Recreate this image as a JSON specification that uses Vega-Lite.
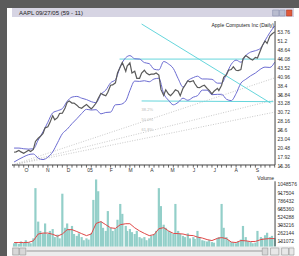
{
"$schema": "https://vega.github.io/schema/vega-lite/v6.json",
"width": 292, "height": 248,
"autosize": {"type": "none"},
"padding": {"left": 7, "top": 8, "right": 0, "bottom": 0},
"background": "#5b5b5b",
"config": {"view": {"fill": "#ffffff", "stroke": null}, "font": "Liberation Sans", "axis": {"labelFont": "Liberation Sans"}},
"data": {"values": [{"one": 1}]},
"datasets": {
"px": [
{"d":"2004-09-13","c":19.3,"v":100000},{"d":"2004-09-16","c":19.4,"v":120000},{"d":"2004-09-20","c":19.8,"v":90000},{"d":"2004-09-23","c":19.4,"v":130000},
{"d":"2004-09-27","c":19.0,"v":110000},{"d":"2004-09-30","c":19.4,"v":150000},{"d":"2004-10-04","c":19.9,"v":120000},{"d":"2004-10-07","c":19.5,"v":100000},
{"d":"2004-10-11","c":20.1,"v":180000},{"d":"2004-10-14","c":22.4,"v":990000},{"d":"2004-10-18","c":23.3,"v":450000},{"d":"2004-10-21","c":23.8,"v":300000},
{"d":"2004-10-25","c":24.7,"v":260000},{"d":"2004-10-28","c":26.3,"v":420000},{"d":"2004-11-01","c":26.6,"v":250000},{"d":"2004-11-04","c":27.8,"v":300000},
{"d":"2004-11-08","c":29.8,"v":330000},{"d":"2004-11-11","c":28.6,"v":200000},{"d":"2004-11-15","c":29.2,"v":240000},{"d":"2004-11-18","c":30.4,"v":180000},
{"d":"2004-11-22","c":30.5,"v":900000},{"d":"2004-11-26","c":32.0,"v":350000},{"d":"2004-11-29","c":33.6,"v":420000},{"d":"2004-12-02","c":34.0,"v":330000},
{"d":"2004-12-06","c":33.4,"v":380000},{"d":"2004-12-09","c":33.4,"v":250000},{"d":"2004-12-13","c":32.8,"v":220000},{"d":"2004-12-16","c":32.2,"v":260000},
{"d":"2004-12-20","c":31.9,"v":200000},{"d":"2004-12-23","c":32.4,"v":150000},{"d":"2004-12-27","c":33.0,"v":180000},{"d":"2004-12-30","c":32.4,"v":160000},
{"d":"2005-01-03","c":31.7,"v":260000},{"d":"2005-01-06","c":32.4,"v":800000},{"d":"2005-01-10","c":33.4,"v":1130000},{"d":"2005-01-13","c":34.7,"v":940000},
{"d":"2005-01-17","c":36.2,"v":450000},{"d":"2005-01-20","c":35.8,"v":350000},{"d":"2005-01-24","c":35.5,"v":300000},{"d":"2005-01-27","c":36.5,"v":620000},
{"d":"2005-01-31","c":38.5,"v":350000},{"d":"2005-02-03","c":38.6,"v":300000},{"d":"2005-02-07","c":39.2,"v":330000},{"d":"2005-02-10","c":42.0,"v":480000},
{"d":"2005-02-14","c":43.7,"v":735000},{"d":"2005-02-17","c":45.0,"v":575000},{"d":"2005-02-22","c":42.5,"v":380000},{"d":"2005-02-24","c":44.0,"v":300000},
{"d":"2005-02-28","c":44.9,"v":330000},{"d":"2005-03-03","c":42.0,"v":280000},{"d":"2005-03-07","c":42.5,"v":250000},{"d":"2005-03-10","c":40.5,"v":300000},
{"d":"2005-03-14","c":40.5,"v":200000},{"d":"2005-03-17","c":42.0,"v":180000},{"d":"2005-03-21","c":42.8,"v":200000},{"d":"2005-03-24","c":42.0,"v":150000},
{"d":"2005-03-28","c":41.5,"v":180000},{"d":"2005-03-31","c":41.7,"v":220000},{"d":"2005-04-04","c":41.7,"v":250000},{"d":"2005-04-07","c":42.0,"v":300000},
{"d":"2005-04-11","c":41.4,"v":990000},{"d":"2005-04-14","c":37.3,"v":700000},{"d":"2005-04-18","c":35.6,"v":400000},{"d":"2005-04-21","c":37.2,"v":350000},
{"d":"2005-04-25","c":36.0,"v":300000},{"d":"2005-04-28","c":35.5,"v":280000},{"d":"2005-05-02","c":36.4,"v":250000},{"d":"2005-05-05","c":37.2,"v":735000},
{"d":"2005-05-09","c":36.8,"v":300000},{"d":"2005-05-12","c":35.5,"v":250000},{"d":"2005-05-16","c":37.6,"v":220000},{"d":"2005-05-19","c":38.5,"v":200000},
{"d":"2005-05-23","c":39.8,"v":260000},{"d":"2005-05-26","c":39.5,"v":180000},{"d":"2005-05-31","c":39.8,"v":200000},{"d":"2005-06-02","c":39.0,"v":170000},
{"d":"2005-06-06","c":37.9,"v":300000},{"d":"2005-06-09","c":37.8,"v":200000},{"d":"2005-06-13","c":38.3,"v":150000},{"d":"2005-06-16","c":38.5,"v":140000},
{"d":"2005-06-20","c":37.6,"v":130000},{"d":"2005-06-23","c":37.0,"v":150000},{"d":"2005-06-27","c":36.0,"v":120000},{"d":"2005-06-30","c":36.8,"v":110000},
{"d":"2005-07-05","c":37.6,"v":180000},{"d":"2005-07-07","c":37.0,"v":200000},{"d":"2005-07-11","c":38.5,"v":735000},{"d":"2005-07-14","c":40.8,"v":350000},
{"d":"2005-07-18","c":41.5,"v":200000},{"d":"2005-07-21","c":42.8,"v":150000},{"d":"2005-07-25","c":43.0,"v":120000},{"d":"2005-07-28","c":43.8,"v":110000},
{"d":"2005-08-01","c":42.8,"v":100000},{"d":"2005-08-04","c":42.7,"v":130000},{"d":"2005-08-08","c":43.0,"v":160000},{"d":"2005-08-11","c":46.1,"v":380000},
{"d":"2005-08-15","c":47.0,"v":200000},{"d":"2005-08-18","c":46.6,"v":130000},{"d":"2005-08-22","c":46.0,"v":120000},{"d":"2005-08-25","c":45.7,"v":100000},
{"d":"2005-08-29","c":46.5,"v":110000},{"d":"2005-09-01","c":46.3,"v":300000},{"d":"2005-09-06","c":48.8,"v":200000},{"d":"2005-09-08","c":49.8,"v":180000},
{"d":"2005-09-12","c":51.2,"v":230000},{"d":"2005-09-15","c":50.5,"v":270000},{"d":"2005-09-19","c":52.6,"v":200000},{"d":"2005-09-22","c":53.2,"v":220000},
{"d":"2005-09-26","c":53.8,"v":180000}
],
"bb": [
{"d":"2004-09-13","u":20.5,"l":16.5,"m":112000},{"d":"2004-09-20","u":20.5,"l":17.3,"m":112000},{"d":"2004-09-27","u":20.3,"l":18.0,"m":112000},
{"d":"2004-10-04","u":20.2,"l":18.6,"m":115000},{"d":"2004-10-11","u":20.3,"l":18.8,"m":140000},{"d":"2004-10-18","u":22.8,"l":17.6,"m":250000},
{"d":"2004-10-25","u":25.2,"l":17.2,"m":265000},{"d":"2004-11-01","u":27.9,"l":17.9,"m":265000},{"d":"2004-11-08","u":30.6,"l":19.4,"m":245000},
{"d":"2004-11-15","u":31.2,"l":22.0,"m":215000},{"d":"2004-11-22","u":31.8,"l":24.6,"m":250000},{"d":"2004-11-29","u":33.9,"l":25.9,"m":320000},
{"d":"2004-12-06","u":35.1,"l":27.5,"m":320000},{"d":"2004-12-13","u":35.3,"l":28.9,"m":290000},{"d":"2004-12-20","u":34.8,"l":30.4,"m":256000},
{"d":"2004-12-27","u":34.4,"l":31.6,"m":224000},{"d":"2005-01-03","u":33.8,"l":31.4,"m":250000},{"d":"2005-01-10","u":33.5,"l":31.5,"m":420000},
{"d":"2005-01-17","u":35.9,"l":30.3,"m":450000},{"d":"2005-01-24","u":37.1,"l":30.7,"m":400000},{"d":"2005-01-31","u":39.2,"l":30.8,"m":350000},
{"d":"2005-02-07","u":40.1,"l":32.9,"m":340000},{"d":"2005-02-14","u":43.8,"l":33.0,"m":400000},{"d":"2005-02-22","u":46.4,"l":34.0,"m":416000},
{"d":"2005-02-28","u":47.0,"l":37.0,"m":416000},{"d":"2005-03-07","u":46.1,"l":39.7,"m":350000},{"d":"2005-03-14","u":46.0,"l":39.6,"m":300000},
{"d":"2005-03-21","u":45.0,"l":39.8,"m":260000},{"d":"2005-03-28","u":44.7,"l":39.5,"m":224000},{"d":"2005-04-04","u":43.1,"l":40.3,"m":240000},
{"d":"2005-04-11","u":42.9,"l":40.5,"m":336000},{"d":"2005-04-18","u":45.3,"l":36.1,"m":352000},{"d":"2005-04-25","u":44.6,"l":34.2,"m":300000},
{"d":"2005-05-02","u":43.3,"l":32.9,"m":260000},{"d":"2005-05-09","u":40.4,"l":33.6,"m":256000},{"d":"2005-05-16","u":38.0,"l":34.8,"m":250000},
{"d":"2005-05-23","u":39.8,"l":34.2,"m":230000},{"d":"2005-05-31","u":40.7,"l":35.1,"m":224000},{"d":"2005-06-06","u":41.1,"l":35.5,"m":200000},
{"d":"2005-06-13","u":40.3,"l":37.1,"m":185000},{"d":"2005-06-20","u":40.3,"l":37.1,"m":160000},{"d":"2005-06-27","u":40.2,"l":35.8,"m":144000},
{"d":"2005-07-05","u":39.1,"l":35.9,"m":180000},{"d":"2005-07-11","u":39.1,"l":35.9,"m":192000},{"d":"2005-07-18","u":41.7,"l":34.5,"m":176000},
{"d":"2005-07-25","u":44.5,"l":34.1,"m":120000},{"d":"2005-08-01","u":45.7,"l":36.1,"m":112000},{"d":"2005-08-08","u":45.1,"l":39.1,"m":144000},
{"d":"2005-08-15","u":47.0,"l":40.2,"m":140000},{"d":"2005-08-22","u":48.0,"l":41.2,"m":128000},{"d":"2005-08-29","u":48.4,"l":42.0,"m":130000},
{"d":"2005-09-06","u":49.2,"l":43.2,"m":160000},{"d":"2005-09-12","u":51.3,"l":43.7,"m":170000},{"d":"2005-09-19","u":53.6,"l":43.6,"m":176000},
{"d":"2005-09-26","u":55.5,"l":45.1,"m":176000}
],
"cyan": [
{"g":"a","d":"2005-03-17","p":56.05},{"g":"a","d":"2005-09-20","p":33.4},
{"g":"b","d":"2005-02-13","p":46.0},{"g":"b","d":"2005-09-26","p":46.0},
{"g":"c","d":"2005-03-17","p":34.0},{"g":"c","d":"2005-09-24","p":33.8}
],
"fan": [
{"g":"a","d":"2004-09-10","p":15.6},{"g":"a","d":"2005-09-26","p":40.6},
{"g":"b","d":"2004-09-10","p":15.6},{"g":"b","d":"2005-09-26","p":34.3},
{"g":"c","d":"2004-09-10","p":15.6},{"g":"c","d":"2005-09-26","p":30.8}
],
"fanlab": [
{"d":"2005-03-17","p":31.4,"t":"38.2%"},{"d":"2005-03-17","p":28.6,"t":"50.0%"},{"d":"2005-03-17","p":25.7,"t":"61.8%"}
],
"plab": [
{"p":15.36,"t":"15.36"},{"p":17.92,"t":"17.92"},{"p":20.48,"t":"20.48"},{"p":23.04,"t":"23.04"},{"p":25.6,"t":"25.6"},{"p":28.16,"t":"28.16"},
{"p":30.72,"t":"30.72"},{"p":33.28,"t":"33.28"},{"p":35.84,"t":"35.84"},{"p":38.4,"t":"38.4"},{"p":40.96,"t":"40.96"},{"p":43.52,"t":"43.52"},
{"p":46.08,"t":"46.08"},{"p":48.64,"t":"48.64"},{"p":51.2,"t":"51.2"},{"p":53.76,"t":"53.76"}
],
"vlab": [
{"v":131072,"t":"131072"},{"v":262144,"t":"262144"},{"v":393216,"t":"393216"},{"v":524288,"t":"524288"},
{"v":655360,"t":"655360"},{"v":786432,"t":"786432"},{"v":917504,"t":"917504"},{"v":1048576,"t":"1048576"}
],
"mlab": [
{"d":"2004-10-01","t":"O"},{"d":"2004-11-01","t":"N"},{"d":"2004-12-01","t":"D"},{"d":"2005-01-01","t":"05"},
{"d":"2005-02-01","t":"F"},{"d":"2005-03-01","t":"M"},{"d":"2005-04-01","t":"A"},{"d":"2005-05-01","t":"M"},
{"d":"2005-06-01","t":"J"},{"d":"2005-07-01","t":"J"},{"d":"2005-08-01","t":"A"},{"d":"2005-09-01","t":"S"}
]
},
"resolve": {"scale": {"y": "independent"}},
"layer": [
{
"layer": [
{"data": {"name": "px"}, "mark": {"type": "line", "color": "#5a5a5a", "strokeWidth": 1.2, "opacity": 0},
 "encoding": {
  "x": {"field": "d", "type": "temporal", "scale": {"domain": [{"year":2004,"month":9,"date":10},{"year":2005,"month":10,"date":24}]},
   "axis": {"orient": "bottom", "offset": -91, "domain": false, "grid": false, "title": null, "ticks": false, "labels": false}},
  "y": {"field": "c", "type": "quantitative", "scale": {"domain": [-10.43, 60.64], "nice": false, "zero": false},
   "axis": {"orient": "right", "offset": -20, "domain": false, "grid": false, "title": null, "tickSize": 2, "tickColor": "#555", "labels": false,
    "values": [15.36, 17.92, 20.48, 23.04, 25.6, 28.16, 30.72, 33.28, 35.84, 38.4, 40.96, 43.52, 46.08, 48.64, 51.2, 53.76]}}}},
{"mark": {"type": "rect", "color": "#d6d4e3"},
 "encoding": {"x": {"datum": {"year":2004,"month":9,"date":10}, "type": "temporal"},
  "x2": {"datum": {"year":2005,"month":10,"date":24}},
  "y": {"datum": 60.64, "type": "quantitative"},
  "y2": {"datum": 58.06}}},
{"mark": {"type": "text", "align": "left", "baseline": "middle", "fontSize": 6, "color": "#222"},
 "encoding": {"x": {"datum": {"year":2004,"month":9,"date":20}, "type": "temporal"},
  "y": {"datum": 59.3, "type": "quantitative"},
  "text": {"value": "AAPL 09/27/05 (59 - 11)"}}},
{"mark": {"type": "rect", "color": "#b9bccf", "stroke": "#8088a8", "strokeWidth": 0.5},
 "encoding": {"x": {"datum": {"year":2005,"month":9,"date":23}, "type": "temporal"}, "x2": {"datum": {"year":2005,"month":10,"date":2}},
  "y": {"datum": 60.07, "type": "quantitative"}, "y2": {"datum": 58.35}}},
{"mark": {"type": "rect", "color": "#b9bccf", "stroke": "#8088a8", "strokeWidth": 0.5},
 "encoding": {"x": {"datum": {"year":2005,"month":10,"date":3}, "type": "temporal"}, "x2": {"datum": {"year":2005,"month":10,"date":11}},
  "y": {"datum": 60.07, "type": "quantitative"}, "y2": {"datum": 58.35}}},
{"mark": {"type": "rect", "color": "#e05a3a", "stroke": "#a03020", "strokeWidth": 0.5},
 "encoding": {"x": {"datum": {"year":2005,"month":10,"date":13}, "type": "temporal"}, "x2": {"datum": {"year":2005,"month":10,"date":21}},
  "y": {"datum": 60.07, "type": "quantitative"}, "y2": {"datum": 58.35}}},
{"data": {"name": "fan"}, "mark": {"type": "line", "color": "#bbbbbb", "strokeWidth": 0.8, "strokeDash": [1, 1.5]},
 "encoding": {"x": {"field": "d", "type": "temporal"}, "y": {"field": "p", "type": "quantitative"}, "detail": {"field": "g"}}},
{"data": {"name": "fanlab"}, "mark": {"type": "text", "align": "left", "fontSize": 4, "color": "#bbbbbb"},
 "encoding": {"x": {"field": "d", "type": "temporal"}, "y": {"field": "p", "type": "quantitative"}, "text": {"field": "t"}}},
{"data": {"name": "cyan"}, "mark": {"type": "line", "color": "#66d6dc", "strokeWidth": 1},
 "encoding": {"x": {"field": "d", "type": "temporal"}, "y": {"field": "p", "type": "quantitative"}, "detail": {"field": "g"}}},
{"data": {"name": "bb"}, "mark": {"type": "line", "color": "#6c6cd2", "strokeWidth": 1, "interpolate": "monotone"},
 "encoding": {"x": {"field": "d", "type": "temporal"}, "y": {"field": "u", "type": "quantitative"}}},
{"data": {"name": "bb"}, "mark": {"type": "line", "color": "#6c6cd2", "strokeWidth": 1, "interpolate": "monotone"},
 "encoding": {"x": {"field": "d", "type": "temporal"}, "y": {"field": "l", "type": "quantitative"}}},
{"data": {"name": "px"}, "mark": {"type": "line", "color": "#5a5a5a", "strokeWidth": 1.2},
 "encoding": {"x": {"field": "d", "type": "temporal"}, "y": {"field": "c", "type": "quantitative"}}},
{"mark": {"type": "rule", "color": "#444", "strokeWidth": 1},
 "encoding": {"x": {"datum": {"year":2005,"month":9,"date":26,"hours":12}, "type": "temporal"},
  "y": {"datum": 56.91, "type": "quantitative"}, "y2": {"datum": 15.65}}},
{"mark": {"type": "rule", "color": "#444", "strokeWidth": 1},
 "encoding": {"x": {"datum": {"year":2004,"month":9,"date":10}, "type": "temporal"}, "x2": {"datum": {"year":2005,"month":9,"date":26,"hours":12}},
  "y": {"datum": 15.65, "type": "quantitative"}}},
{"data": {"name": "bb"}, "mark": {"type": "rule", "color": "#444", "strokeWidth": 0.8},
 "encoding": {"x": {"field": "d", "type": "temporal"},
  "y": {"datum": 15.65, "type": "quantitative"}, "y2": {"datum": 14.9}}},
{"data": {"name": "plab"}, "mark": {"type": "text", "align": "left", "baseline": "middle", "fontSize": 5, "color": "#333"},
 "encoding": {"x": {"datum": {"year":2005,"month":9,"date":30}, "type": "temporal"},
  "y": {"field": "p", "type": "quantitative"}, "text": {"field": "t"}}},
{"data": {"name": "mlab"}, "mark": {"type": "text", "align": "center", "baseline": "middle", "fontSize": 5, "color": "#333"},
 "encoding": {"x": {"field": "d", "type": "temporal"},
  "y": {"datum": 14.3, "type": "quantitative"}, "text": {"field": "t"}}},
{"mark": {"type": "text", "align": "right", "baseline": "middle", "fontSize": 5, "color": "#222"},
 "encoding": {"x": {"datum": {"year":2005,"month":9,"date":25}, "type": "temporal"},
  "y": {"datum": 55.9, "type": "quantitative"},
  "text": {"value": "Apple Computers Inc (Daily)"}}}
]
},
{
"layer": [
{"data": {"name": "px"}, "mark": {"type": "bar", "color": "#93cfc9", "size": 2.2},
 "encoding": {"x": {"field": "d", "type": "temporal"},
  "y": {"field": "v", "type": "quantitative", "scale": {"domain": [-104858, 3895859], "nice": false, "zero": false},
   "axis": {"orient": "right", "offset": -20, "domain": false, "grid": false, "title": null, "tickSize": 2, "tickColor": "#555", "labels": false,
    "values": [131072, 262144, 393216, 524288, 655360, 786432, 917504, 1048576]}}}},
{"data": {"name": "bb"}, "mark": {"type": "line", "color": "#e04848", "strokeWidth": 1},
 "encoding": {"x": {"field": "d", "type": "temporal"}, "y": {"field": "m", "type": "quantitative"}}},
{"mark": {"type": "rule", "color": "#444", "strokeWidth": 1},
 "encoding": {"x": {"datum": {"year":2005,"month":9,"date":26,"hours":12}, "type": "temporal"},
  "y": {"datum": 1100000, "type": "quantitative"}, "y2": {"datum": 48400}}},
{"data": {"name": "vlab"}, "mark": {"type": "text", "align": "left", "baseline": "middle", "fontSize": 5, "color": "#333"},
 "encoding": {"x": {"datum": {"year":2005,"month":9,"date":30}, "type": "temporal"},
  "y": {"field": "v", "type": "quantitative"}, "text": {"field": "t"}}},
{"mark": {"type": "text", "align": "right", "baseline": "middle", "fontSize": 5, "color": "#222"},
 "encoding": {"x": {"datum": {"year":2005,"month":9,"date":25}, "type": "temporal"},
  "y": {"datum": 1155000, "type": "quantitative"},
  "text": {"value": "Volume"}}},
{"mark": {"type": "rect", "color": "#ececec"},
 "encoding": {"x": {"datum": {"year":2004,"month":9,"date":10}, "type": "temporal"}, "x2": {"datum": {"year":2005,"month":10,"date":24}},
  "y": {"datum": 48400, "type": "quantitative"}, "y2": {"datum": -104858}}},
{"mark": {"type": "rule", "color": "#999", "strokeWidth": 1},
 "encoding": {"x": {"datum": {"year":2004,"month":10,"date":1}, "type": "temporal"}, "x2": {"datum": {"year":2005,"month":9,"date":8}},
  "y": {"datum": -24200, "type": "quantitative"}}},
{"mark": {"type": "rect", "color": "#d8d8d8", "stroke": "#888", "strokeWidth": 0.5},
 "encoding": {"x": {"datum": {"year":2004,"month":9,"date":11}, "type": "temporal"}, "x2": {"datum": {"year":2004,"month":9,"date":20}},
  "y": {"datum": 24200, "type": "quantitative"}, "y2": {"datum": -88700}}},
{"mark": {"type": "rect", "color": "#d8d8d8", "stroke": "#888", "strokeWidth": 0.5},
 "encoding": {"x": {"datum": {"year":2004,"month":9,"date":21}, "type": "temporal"}, "x2": {"datum": {"year":2004,"month":9,"date":30}},
  "y": {"datum": 24200, "type": "quantitative"}, "y2": {"datum": -88700}}},
{"mark": {"type": "rect", "color": "#d8d8d8", "stroke": "#888", "strokeWidth": 0.5},
 "encoding": {"x": {"datum": {"year":2005,"month":9,"date":8}, "type": "temporal"}, "x2": {"datum": {"year":2005,"month":9,"date":16}},
  "y": {"datum": 24200, "type": "quantitative"}, "y2": {"datum": -88700}}},
{"mark": {"type": "rect", "color": "#e8e8e8", "stroke": "#888", "strokeWidth": 0.5},
 "encoding": {"x": {"datum": {"year":2005,"month":9,"date":20}, "type": "temporal"}, "x2": {"datum": {"year":2005,"month":10,"date":2}},
  "y": {"datum": 24200, "type": "quantitative"}, "y2": {"datum": -88700}}},
{"mark": {"type": "rect", "color": "#e8e8e8", "stroke": "#888", "strokeWidth": 0.5},
 "encoding": {"x": {"datum": {"year":2005,"month":10,"date":6}, "type": "temporal"}, "x2": {"datum": {"year":2005,"month":10,"date":16}},
  "y": {"datum": 24200, "type": "quantitative"}, "y2": {"datum": -88700}}},
{"mark": {"type": "rect", "color": "#e8e8e8", "stroke": "#888", "strokeWidth": 0.5},
 "encoding": {"x": {"datum": {"year":2005,"month":10,"date":17}, "type": "temporal"}, "x2": {"datum": {"year":2005,"month":10,"date":24}},
  "y": {"datum": 24200, "type": "quantitative"}, "y2": {"datum": -88700}}}
]
}
]
}
